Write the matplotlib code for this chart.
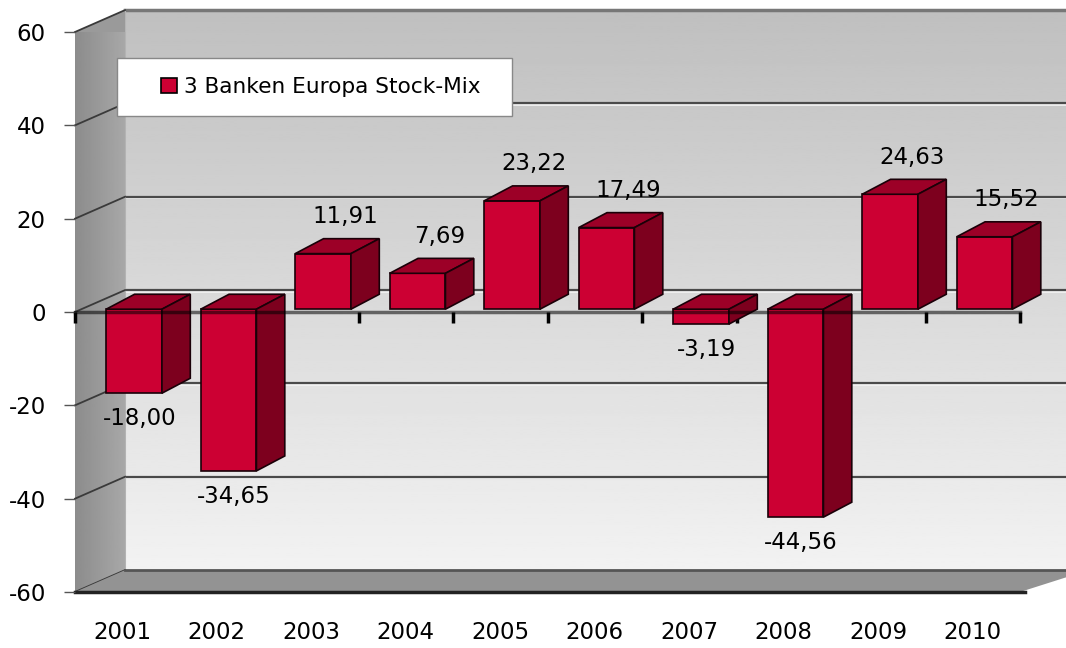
import matplotlib
matplotlib.use("Agg")
import matplotlib.pyplot as plt
import matplotlib.patches as mpatches
import numpy as np

YEARS = ["2001", "2002", "2003", "2004", "2005", "2006", "2007", "2008", "2009", "2010"]
RETURNS = [-18.00, -34.65, 11.91, 7.69, 23.22, 17.49, -3.19, -44.56, 24.63, 15.52]
SERIES_NAME = "3 Banken Europa Stock-Mix"
Y_TICKS = [-60, -40, -20, 0, 20, 40, 60]

FRONT_COLOR = "#cc0033"
TOP_COLOR = "#9c0027"
SIDE_COLOR = "#7d001e"

# fake 3d: offsets in data units (x = categories, y = percent)
WALL_DX, WALL_DY = 0.53, 4.7
BAR_X0, BAR_W = 0.33, 0.59
BAR_DX, BAR_DY = 0.30, 3.2
BAR_LIFT = 0.6

FS = 16.5

plt.rcParams['font.family'] = ['DejaVu Sans']

fig = plt.figure(figsize=(10.66, 6.48), dpi=100)
ax = fig.add_axes([75/1066, 56/648, 945/1066, 560/648])
ax.set_facecolor("none")
n = len(RETURNS)
ymin, ymax = Y_TICKS[0], Y_TICKS[-1]

# back wall with vertical gradient
grad = np.linspace(0.95, 0.75, 256).reshape(-1, 1)
im = ax.imshow(grad, cmap="gray", vmin=0, vmax=1, aspect="auto", origin="lower",
               extent=[WALL_DX, n + WALL_DX + 0.2, ymin + WALL_DY, ymax + WALL_DY],
               zorder=0)
im.set_clip_on(False)

# back wall grid lines (with a light line just below each)
for v in Y_TICKS[1:-1]:
    ax.plot([WALL_DX, n + WALL_DX + 0.2], [v + WALL_DY - 0.35, v + WALL_DY - 0.35],
            color="#f4f4f4", lw=1.2, zorder=0.45, clip_on=False)
    ax.plot([WALL_DX, n + WALL_DX + 0.2], [v + WALL_DY, v + WALL_DY], color="#4a4a4a",
            lw=1.6, zorder=0.5, clip_on=False, solid_capstyle="butt")
ax.plot([WALL_DX, n + WALL_DX + 0.2], [ymax + WALL_DY, ymax + WALL_DY], color="#777777",
        lw=2.5, zorder=0.5, clip_on=False)
ax.plot([WALL_DX, WALL_DX], [ymin + WALL_DY, ymax + WALL_DY], color="#b8b8b8",
        lw=1.5, zorder=0.5, clip_on=False)

# left wall
left_pts = [(0, ymin), (0, ymax), (WALL_DX, ymax + WALL_DY), (WALL_DX, ymin + WALL_DY)]
left_wall = mpatches.Polygon(left_pts, closed=True, facecolor="#9a9a9a", edgecolor="none",
                             zorder=0.6, clip_on=False)
ax.add_patch(left_wall)
lgrad = np.linspace(0.55, 0.66, 64).reshape(1, -1)
lim = ax.imshow(lgrad, cmap="gray", vmin=0, vmax=1, aspect="auto",
                extent=[0, WALL_DX, ymin, ymax + WALL_DY], zorder=0.7)
lim.set_clip_path(left_wall)
lim.set_clip_box(None)
for v in Y_TICKS:
    ax.plot([0, WALL_DX], [v, v + WALL_DY], color="#3a3a3a", lw=1.3, zorder=0.8,
            clip_on=False)

# floor
floor_pts = [(0, ymin), (n, ymin), (n + WALL_DX + 0.2, ymin + WALL_DY), (WALL_DX, ymin + WALL_DY)]
ax.add_patch(mpatches.Polygon(floor_pts, closed=True, facecolor="#939393", edgecolor="none",
                              zorder=0.9, clip_on=False))
ax.plot([WALL_DX, n + WALL_DX + 0.2], [ymin + WALL_DY, ymin + WALL_DY], color="#555555",
        lw=2, zorder=0.95, clip_on=False)
ax.plot([0, n + 0.05], [ymin, ymin], color="#222222", lw=2.5, zorder=0.95, clip_on=False)

# bars: front faces
x = np.arange(n)
ax.bar(x + BAR_X0, RETURNS, width=BAR_W, bottom=BAR_LIFT, align="edge",
       color=FRONT_COLOR, edgecolor="#1a0008", linewidth=1.2, zorder=2)

# bars: top and side faces
for i, v in enumerate(RETURNS):
    x0 = i + BAR_X0
    x1 = x0 + BAR_W
    ytop = max(v, 0) + BAR_LIFT
    ybot = min(v, 0) + BAR_LIFT
    top = [(x0, ytop), (x1, ytop), (x1 + BAR_DX, ytop + BAR_DY), (x0 + BAR_DX, ytop + BAR_DY)]
    side = [(x1, ybot), (x1, ytop), (x1 + BAR_DX, ytop + BAR_DY), (x1 + BAR_DX, ybot + BAR_DY)]
    ax.add_patch(mpatches.Polygon(top, closed=True, facecolor=TOP_COLOR, edgecolor="#1a0008",
                                  lw=1.2, zorder=2, clip_on=False))
    ax.add_patch(mpatches.Polygon(side, closed=True, facecolor=SIDE_COLOR, edgecolor="#1a0008",
                                  lw=1.2, zorder=2, clip_on=False))

    if v >= 0:
        ax.text(x0 + BAR_W / 2 + 0.233, v + 8.5, f"{v:.2f}".replace(".", ","),
                ha="center", va="center", fontsize=FS, zorder=4)
    else:
        ax.text(x0 + BAR_W / 2 + 0.06, v - 4.9, f"{v:.2f}".replace(".", ","),
                ha="center", va="center", fontsize=FS, zorder=4)

# category labels below the floor
for i, yr in enumerate(YEARS):
    ax.annotate(yr, xy=(i + 0.5, ymin), xytext=(0, -29.5), textcoords="offset points",
                ha="center", va="center", fontsize=FS, annotation_clip=False)

ax.set_xlim(0, n)
ax.set_ylim(ymin, ymax)

# axes: zero line over the bars, left ticks
for s in ["top", "right", "left"]:
    ax.spines[s].set_visible(False)
ax.spines["bottom"].set_position(("data", 0))
ax.spines["bottom"].set_color((0, 0, 0, 0.55))
ax.spines["bottom"].set_linewidth(2.5)
ax.spines["bottom"].set_zorder(3)
ax.set_xticks(np.arange(n + 1))
ax.set_xticklabels([])
ax.tick_params(axis="x", direction="out", length=8, width=2.5, color="black")
ax.set_yticks(Y_TICKS)
ax.set_yticklabels([str(t) for t in Y_TICKS], fontsize=FS)
ax.tick_params(axis="y", direction="out", length=8, width=1, color="#555555", pad=13)

# legend box
fig.add_artist(mpatches.Rectangle((117/1066, 1 - 116/648), 395/1066, 58/648,
                                  transform=fig.transFigure, facecolor="white",
                                  edgecolor="#888888", lw=1, zorder=4))
handle = mpatches.Patch(facecolor=FRONT_COLOR, edgecolor="black", lw=1.2)
fig.legend([handle], [SERIES_NAME], loc="center left",
           bbox_to_anchor=(150/1066, 1 - 87/648), frameon=False, fontsize=15.6,
           borderpad=0, handlelength=0.75, handleheight=0.75, handletextpad=0.3)

fig.savefig("out.png", dpi=100)
